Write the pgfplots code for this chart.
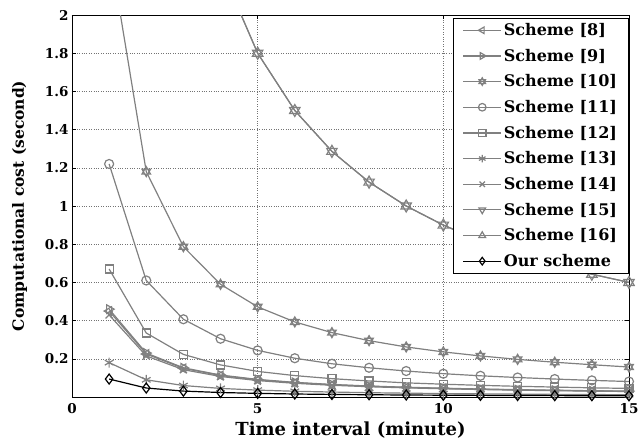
\documentclass[border=0pt]{standalone}
\usepackage{fontspec}
\setmainfont{DejaVu Serif}
\usepackage{pgfplots}
\pgfplotsset{compat=1.18}
\usetikzlibrary{calc}
\definecolor{mgray}{RGB}{128,128,128}
\pgfdeclareplotmark{hexagram}{%
 \pgfpathmoveto{\pgfqpointpolar{90}{\pgfplotmarksize}}%
 \pgfpathlineto{\pgfqpointpolar{210}{\pgfplotmarksize}}%
 \pgfpathlineto{\pgfqpointpolar{330}{\pgfplotmarksize}}%
 \pgfpathclose
 \pgfpathmoveto{\pgfqpointpolar{270}{\pgfplotmarksize}}%
 \pgfpathlineto{\pgfqpointpolar{30}{\pgfplotmarksize}}%
 \pgfpathlineto{\pgfqpointpolar{150}{\pgfplotmarksize}}%
 \pgfpathclose
 \pgfusepathqstroke}
\begin{document}
\begin{tikzpicture}
\begin{axis}[
  scale only axis,
  width=557pt, height=382pt,
  xmin=0, xmax=15, ymin=0, ymax=2,
  xtick={0,5,10,15},
  ytick={0.2,0.4,0.6,0.8,1,1.2,1.4,1.6,1.8,2},
  yticklabels={0.2,0.4,0.6,0.8,1,1.2,1.4,1.6,1.8,2},
  xticklabels={0,5,10,15},
  tick align=inside,
  ticklabel style={font=\bfseries\fontsize{13.5}{15}\selectfont},
  xticklabel style={yshift=-3pt},
  /pgf/number format/assume math mode=true,
  grid=major,
  major grid style={dotted, draw=black!55, line width=0.6pt},
  axis line style={line width=0.9pt},
  tick style={black, line width=0.6pt},
  major tick length=4pt,
  xlabel={Time interval (minute)},
  ylabel={Computational cost (second)},
  xlabel style={font=\bfseries\fontsize{18}{20}\selectfont, yshift=-1pt},
  ylabel style={font=\bfseries\fontsize{15.5}{17}\selectfont, yshift=11pt},
  legend style={at={(0.999,0.992)}, anchor=north east, draw=black, line width=0.8pt,
    font=\bfseries\fontsize{16}{18}\selectfont, row sep=8pt, inner xsep=9pt, inner ysep=3pt},
  legend cell align=left,
  legend image code/.code={\draw[mark repeat=2,mark phase=2, mark size=3.8pt] plot coordinates {(0pt,0pt)(19pt,0pt)(38pt,0pt)};},
  every axis plot/.append style={line width=1.2pt},
]
\addplot[mgray, mark=triangle, mark size=5pt, mark options={rotate=90, solid}] coordinates {
(1,0.45)(2,0.225)(3,0.15)(4,0.1125)(5,0.09)(6,0.075)(7,0.0643)(8,0.0563)(9,0.05)(10,0.045)(11,0.0409)(12,0.0375)(13,0.0346)(14,0.0321)(15,0.03)};
\addlegendentry{Scheme [8]}
\addplot[mgray, mark=triangle, mark size=5pt, mark options={rotate=-90, solid}] coordinates {
(1,0.46)(2,0.23)(3,0.153)(4,0.115)(5,0.092)(6,0.0767)(7,0.0657)(8,0.0575)(9,0.0511)(10,0.046)(11,0.0418)(12,0.0383)(13,0.0354)(14,0.0329)(15,0.0307)};
\addlegendentry{Scheme [9]}
\addplot[mgray, mark=hexagram, mark size=5pt, mark options={solid}] coordinates {
(1,2.36)(2,1.18)(3,0.787)(4,0.59)(5,0.472)(6,0.393)(7,0.337)(8,0.295)(9,0.262)(10,0.236)(11,0.215)(12,0.197)(13,0.182)(14,0.169)(15,0.157)};
\addlegendentry{Scheme [10]}
\addplot[mgray, mark=o, mark size=4.5pt, mark options={solid}] coordinates {
(1,1.22)(2,0.61)(3,0.407)(4,0.305)(5,0.244)(6,0.203)(7,0.174)(8,0.153)(9,0.136)(10,0.122)(11,0.111)(12,0.102)(13,0.094)(14,0.087)(15,0.081)};
\addlegendentry{Scheme [11]}
\addplot[mgray, mark=square, mark size=4pt, mark options={solid}] coordinates {
(1,0.67)(2,0.335)(3,0.223)(4,0.168)(5,0.134)(6,0.112)(7,0.096)(8,0.084)(9,0.074)(10,0.067)(11,0.061)(12,0.056)(13,0.052)(14,0.048)(15,0.045)};
\addlegendentry{Scheme [12]}
\addplot[mgray, mark=asterisk, mark size=5pt, mark options={solid}] coordinates {
(1,0.18)(2,0.09)(3,0.06)(4,0.045)(5,0.036)(6,0.03)(7,0.026)(8,0.0225)(9,0.02)(10,0.018)(11,0.0164)(12,0.015)(13,0.0138)(14,0.0129)(15,0.012)};
\addlegendentry{Scheme [13]}
\addplot[mgray, mark=x, mark size=5pt, mark options={solid}] coordinates {
(1,0.43)(2,0.215)(3,0.143)(4,0.1075)(5,0.086)(6,0.0717)(7,0.0614)(8,0.0538)(9,0.0478)(10,0.043)(11,0.0391)(12,0.0358)(13,0.0331)(14,0.0307)(15,0.0287)};
\addlegendentry{Scheme [14]}
\addplot[mgray, mark=triangle, mark size=6pt, mark options={rotate=180, solid}] coordinates {
(1,9)(2,4.5)(3,3)(4,2.25)(5,1.8)(6,1.5)(7,1.286)(8,1.125)(9,1)(10,0.9)(11,0.818)(12,0.75)(13,0.692)(14,0.643)(15,0.6)};
\addlegendentry{Scheme [15]}
\addplot[mgray, mark=triangle, mark size=6pt, mark options={solid}] coordinates {
(1,9)(2,4.5)(3,3)(4,2.25)(5,1.8)(6,1.5)(7,1.286)(8,1.125)(9,1)(10,0.9)(11,0.818)(12,0.75)(13,0.692)(14,0.643)(15,0.6)};
\addlegendentry{Scheme [16]}
\addplot[black, mark=diamond, mark size=5pt, mark options={solid}] coordinates {
(1,0.094)(2,0.047)(3,0.031)(4,0.0235)(5,0.019)(6,0.0157)(7,0.0134)(8,0.0118)(9,0.0104)(10,0.0094)(11,0.0085)(12,0.0078)(13,0.0072)(14,0.0067)(15,0.0063)};
\addlegendentry{Our scheme}
\end{axis}
\pgfresetboundingbox
\path[use as bounding box] ($(current axis.south west)+(-72pt,-48pt)$) rectangle ($(current axis.north east)+(12pt,15pt)$);
\end{tikzpicture}
\end{document}
